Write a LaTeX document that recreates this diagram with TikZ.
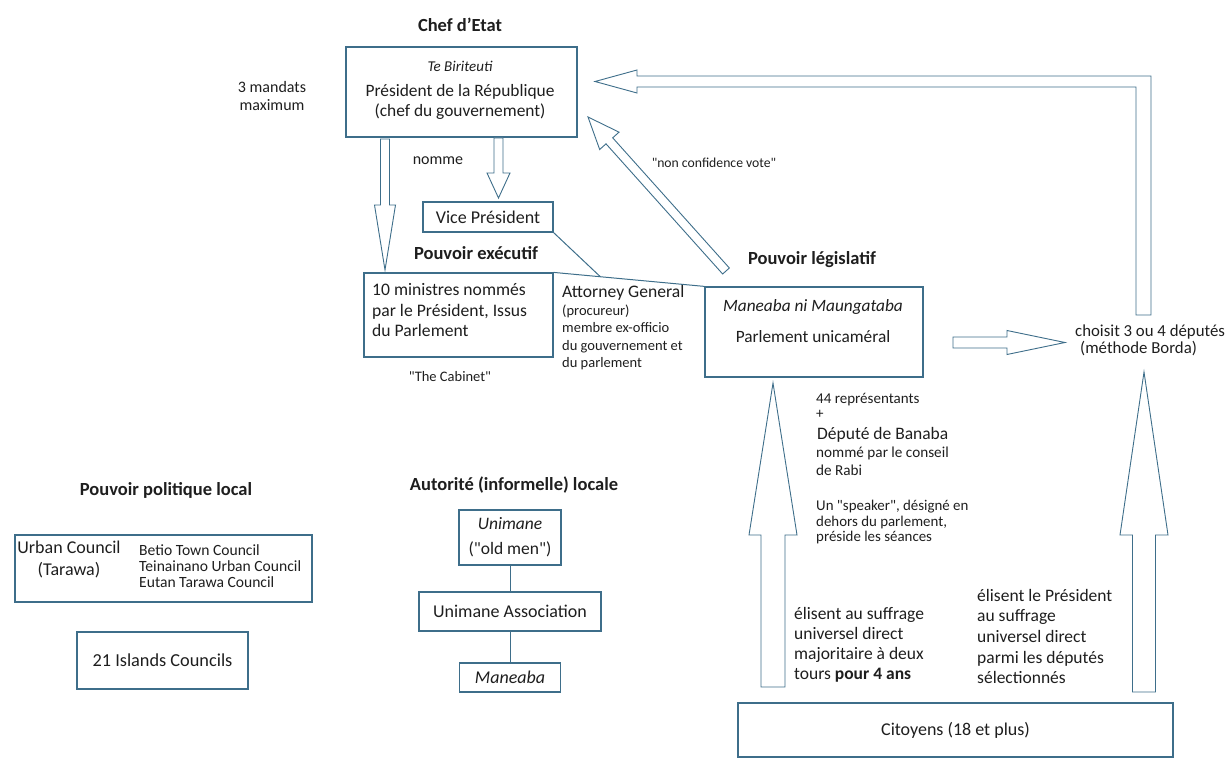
\documentclass[tikz,border=0pt]{standalone}
\usepackage{fontspec}
\setmainfont{Carlito}
\usepackage{tikz}
\usetikzlibrary{calc,positioning}
\definecolor{linecol}{RGB}{62,110,138}
\definecolor{txtcol}{RGB}{30,30,30}
\newcommand{\fs}[2]{\fontsize{#1}{#2}\selectfont}
\newcommand{\q}[1]{\textquotedbl#1\textquotedbl}
% hollow block arrow: start, tip, shaft half-width, head half-width, head length
\newcommand{\hollowarrow}[5]{%
  \draw[arrowline] ($(#1)!#3!90:(#2)$)
    -- ($($(#2)!#5!(#1)$)!#3!90:(#2)$)
    -- ($($(#2)!#5!(#1)$)!#4!90:(#2)$)
    -- (#2)
    -- ($($(#2)!#5!(#1)$)!#4!-90:(#2)$)
    -- ($($(#2)!#5!(#1)$)!#3!-90:(#2)$)
    -- ($(#1)!#3!-90:(#2)$) -- cycle;}

\begin{document}
\begin{tikzpicture}[x=1pt,y=-1pt,
  every node/.style={text=txtcol,inner sep=0pt},
  box/.style={draw=linecol,line width=1.2pt},
  title/.style={font=\fs{18.5}{21}\bfseries},
  arrowline/.style={draw=linecol,line width=0.9pt,fill=white},
  link/.style={draw=linecol,line width=1pt}]
\useasboundingbox (0,0) rectangle (1231,759);

% chef d'etat
\node[title] (chef) at (460,25) {Chef d'Etat};
\node[box,minimum width=231pt,minimum height=90pt] (pres) at (461.5,92) {};
\node[font=\fs{17.4}{20},align=center] (prestxt) at (460,90)
  {{\fs{15}{16}\itshape Te Biriteuti}\\[5pt]Président de la République\\(chef du gouvernement)};
\node[font=\fs{16}{18},align=center] (mandats) at (272,96) {3 mandats\\maximum};
\node[font=\fs{16}{18}] (nomme) at (438,161) {nomme};
\node[box,minimum width=130pt,minimum height=30pt,font=\fs{18}{20}] (vp) at (488,217) {Vice Président};

% executif
\node[title] (exec) at (476,253) {Pouvoir exécutif};
\node[box,minimum width=189pt,minimum height=84pt] (min) at (458.5,315) {};
\node[font=\fs{17.6}{20.5},align=left,anchor=west] (mintxt) at (372,310.5)
  {10 ministres nommés\\par le Président, Issus\\du Parlement};
\node[font=\fs{14.5}{16}] (cabinet) at (450,377) {\q{The Cabinet}};
\node[font=\fs{14.5}{17.5},align=left,anchor=west] (att) at (562,328)
  {{\fs{17.6}{19}Attorney General}\\(procureur)\\membre ex-officio\\du gouvernement et\\du parlement};

% legislatif
\node[title] (legis) at (812,260) {Pouvoir législatif};
\node[box,minimum width=218pt,minimum height=90pt] (leg) at (814,332) {};
\node[font=\fs{17.3}{20},align=center] (legtxt) at (813,321.5)
  {\textit{Maneaba ni Maungataba}\\[11pt]Parlement unicaméral};
\node[font=\fs{13.7}{15}] (noconf) at (714,163) {\q{non confidence vote}};
\node[font=\fs{16.8}{17},align=left,anchor=west] (choix) at (1075,340)
  {choisit 3 ou 4 députés\\\hspace*{5pt}(méthode Borda)};
\node[font=\fs{15}{15},align=left,anchor=west] (reps) at (816,405.5) {44 représentants\\+};
\node[font=\fs{17.5}{18},anchor=west] (banaba) at (817,435) {Député de Banaba};
\node[font=\fs{15.2}{18},align=left,anchor=west] (rabi) at (816,461) {nommé par le conseil\\de Rabi};
\node[font=\fs{14.9}{15.5},align=left,anchor=west] (speaker) at (816,522.5)
  {Un \q{speaker}, désigné en\\dehors du parlement,\\préside les séances};

% citoyens
\node[font=\fs{17.5}{20},align=left,anchor=west] (elect1) at (794,645)
  {élisent au suffrage\\universel direct\\majoritaire à deux\\tours \textbf{pour 4 ans}};
\node[font=\fs{17.5}{20.7},align=left,anchor=west] (elect2) at (977,636.5)
  {élisent le Président\\au suffrage\\universel direct\\parmi les députés\\sélectionnés};
\node[box,minimum width=435pt,minimum height=54pt,font=\fs{18}{20}] (cit) at (955.5,730) {Citoyens (18 et plus)};

% pouvoir local
\node[title] (polloc) at (166,490) {Pouvoir politique local};
\node[box,minimum width=297pt,minimum height=67pt] (urban) at (163.5,568.5) {};
\node[font=\fs{18}{22},align=center] (urbtxt) at (69,559) {Urban Council\\(Tarawa)};
\node[font=\fs{15.6}{16},align=left,anchor=west] (councils) at (139,566)
  {Betio Town Council\\Teinainano Urban Council\\Eutan Tarawa Council};
\node[box,minimum width=171pt,minimum height=57pt,font=\fs{18.3}{20}] (islands) at (162.5,660.5) {21 Islands Councils};

\node[title] (autloc) at (514,485) {Autorité (informelle) locale};
\node[box,minimum width=102pt,minimum height=55pt,font=\fs{17.5}{25},align=center] (unim) at (510,537.5)
  {\textit{Unimane}\\(\q{old men})};
\node[box,minimum width=182pt,minimum height=39pt,font=\fs{18}{20}] (assoc) at (510,611.5) {Unimane Association};
\node[box,minimum width=101pt,minimum height=29pt,font=\fs{18}{20}\itshape] (manb) at (510,677.5) {Maneaba};
\draw[link] (unim) -- (assoc) (assoc) -- (manb);

% attorney links
\draw[link] (min.north east) -- coordinate[pos=0.31] (attjoin) (leg.north west);
\draw[link] (vp.south east) -- (attjoin);

% block arrows
\coordinate (presA) at (385,139);
\coordinate (presB) at (385,270);
\coordinate (vpA) at (498.5,138);
\coordinate (vpB) at (498.5,198);
\coordinate (confA) at (726,271);
\coordinate (confB) at (588,117);
\coordinate (legA) at (953,342.5);
\coordinate (legB) at (1065,342.5);
\coordinate (citA) at (773,687);
\coordinate (citB) at (773,383);
\coordinate (citC) at (1144,692);
\coordinate (citD) at (1144,372);
\hollowarrow{presA}{presB}{4.5pt}{10.5pt}{65pt}
\hollowarrow{vpA}{vpB}{4.5pt}{11.5pt}{25pt}
\hollowarrow{confA}{confB}{4.5pt}{13pt}{32pt}
\hollowarrow{legA}{legB}{5.5pt}{12pt}{58pt}
\hollowarrow{citA}{citB}{12pt}{24pt}{152pt}
\hollowarrow{citC}{citD}{11.5pt}{24pt}{163pt}

% retour vers le president
\coordinate (retA) at (1143.5,315);
\coordinate (retB) at (1143.5,81.5);
\coordinate (retT) at (595,81.5);
\draw[arrowline] ($(retA)+(-7.5,0)$) -- ($(retB)+(-7.5,5.5)$) -- ($(retT)+(42,5.5)$)
  -- ($(retT)+(42,11.5)$) -- (retT) -- ($(retT)+(42,-11.5)$) -- ($(retT)+(42,-5.5)$)
  -- ($(retB)+(7.5,-5.5)$) -- ($(retA)+(7.5,0)$) -- cycle;
\end{tikzpicture}
\end{document}
